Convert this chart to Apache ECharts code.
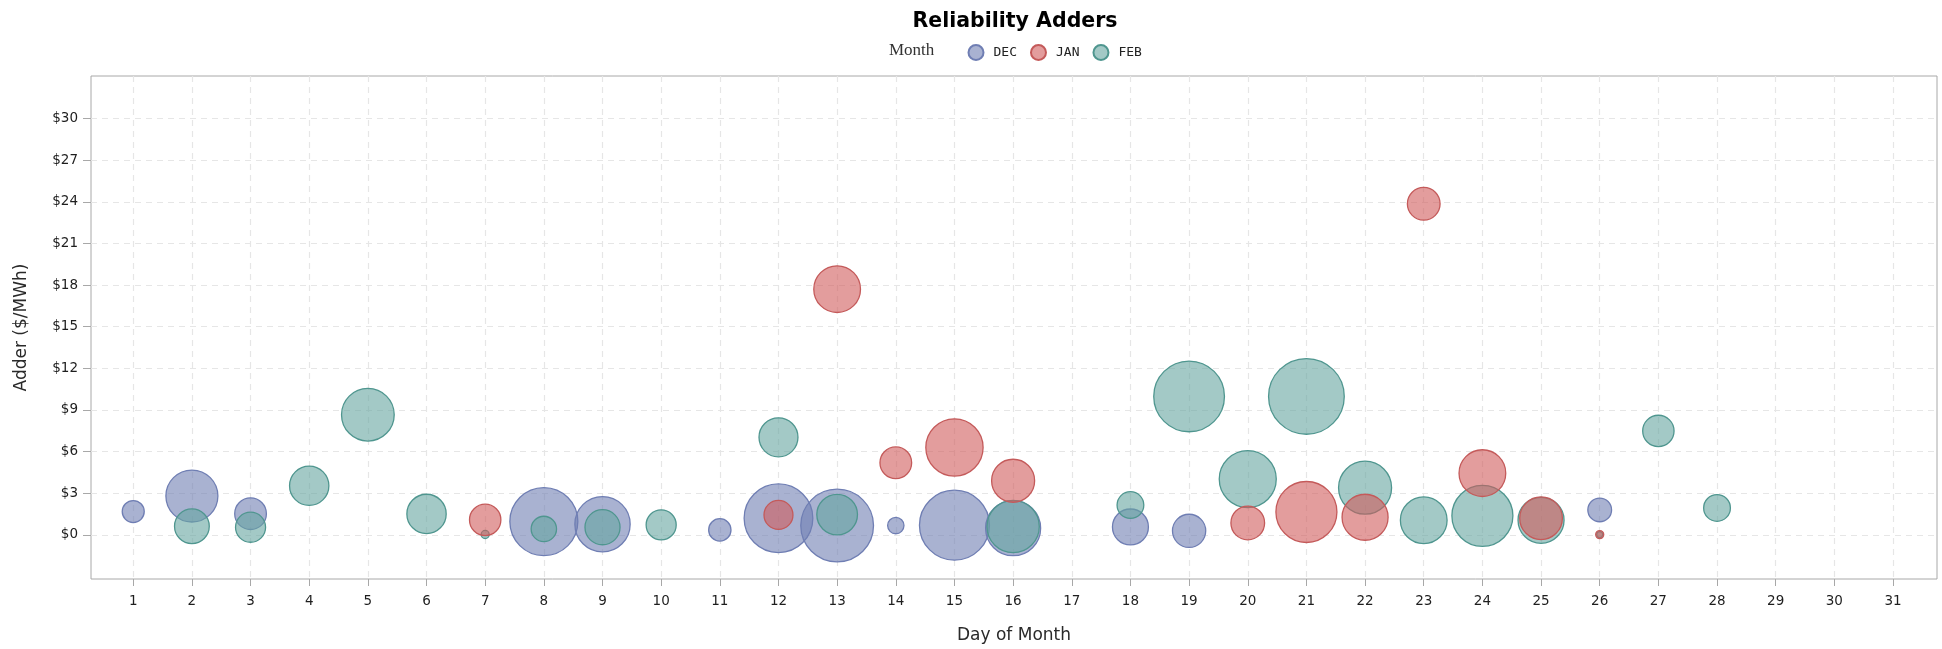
<!DOCTYPE html>
<html>
<head>
<meta charset="utf-8">
<title>Reliability Adders</title>
<script src="https://cdn.jsdelivr.net/npm/echarts@6/dist/echarts.min.js"></script>
<style>
    html, body { margin: 0; padding: 0; background: #fff; }
    #chart { width: 1942px; height: 649px; }
</style>
</head>
<body>
<div id="chart"></div>
<script>
// tick labels
const dayTicks = [1, 2, 3, 4, 5, 6, 7, 8, 9, 10, 11, 12, 13, 14, 15, 16, 17, 18, 19, 20, 21, 22, 23, 24, 25, 26, 27, 28, 29, 30, 31];
const adderTicks = [0, 3, 6, 9, 12, 15, 18, 21, 24, 27, 30];

const months = ['DEC', 'JAN', 'FEB'];

// DEC
const decDay = [1, 2, 3, 8, 9, 11, 12, 13, 14, 15, 16, 18, 19, 26];
const decAdder = [1.68, 2.80, 1.53, 0.96, 0.77, 0.36, 1.20, 0.67, 0.67, 0.70, 0.48, 0.57, 0.29, 1.80];
const decWeight = [6.7, 37.4, 13.9, 64.0, 42.3, 6.9, 65.3, 73.2, 3.7, 67.8, 41.9, 17.9, 15.3, 7.8];

// JAN
const janDay = [7, 12, 13, 14, 15, 16, 20, 21, 22, 23, 24, 25, 26];
const janAdder = [1.08, 1.44, 17.71, 5.20, 6.30, 3.90, 0.86, 1.65, 1.27, 23.86, 4.45, 1.20, 0.02];
const janWeight = [13.6, 11.6, 30.2, 13.9, 45.4, 25.6, 15.7, 51.5, 29.3, 14.8, 30.2, 25.2, 0.9];

// FEB
const febDay = [2, 3, 4, 5, 6, 7, 8, 9, 10, 12, 13, 16, 18, 19, 20, 21, 22, 23, 24, 25, 26, 27, 28];
const febAdder = [0.62, 0.55, 3.54, 8.66, 1.51, 0.03, 0.43, 0.55, 0.72, 7.03, 1.46, 0.60, 2.15, 9.98, 4.02, 9.98, 3.40, 1.05, 1.37, 1.05, 0.02, 7.49, 1.94];
const febWeight = [16.7, 12.5, 21.4, 38.4, 21.4, 0.9, 8.9, 17.0, 12.5, 21.0, 22.9, 37.9, 9.9, 69.2, 45.0, 79.3, 38.9, 30.2, 51.5, 29.3, 0.5, 13.6, 9.9];

const fills = ['rgba(111,126,179,0.6)', 'rgba(208,91,91,0.6)', 'rgba(102,165,160,0.6)'];
const strokes = ['#6f7eb3', '#c45a5a', '#4f968f'];

function zip(days, adder, weight) {
    return days.map(function (d, i) {
        return [d, adder[i], weight[i]];
    });
}

function bubbleSeries(idx, data) {
    return {
        name: months[idx],
        type: 'scatter',
        data: data,
        symbol: 'circle',
        symbolSize: function (v) {
            return 8.5 * Math.sqrt(v[2]);
        },
        itemStyle: {
            color: fills[idx],
            borderColor: strokes[idx],
            borderWidth: 1.3,
            opacity: 1
        },
        emphasis: {disabled: true}
    };
}

const gridLine = {
    show: true,
    lineStyle: {color: '#e6e6e6', width: 1.2, type: [6, 5]}
};
const tickFont = {
    fontFamily: 'DejaVu Sans',
    fontSize: 13.5,
    color: '#1e1e1e'
};
const nameFont = {
    fontFamily: 'DejaVu Sans',
    fontSize: 17,
    color: '#2a2a2a'
};
const frameColor = '#a8a8a8';

let option = {
    animation: false,
    backgroundColor: '#fff',
    title: [
        {
            text: 'Reliability Adders',
            left: 1015,
            top: 11,
            textAlign: 'center',
            padding: 0,
            textStyle: {
                fontFamily: 'DejaVu Sans',
                fontWeight: 'bold',
                fontSize: 20.5,
                color: '#000'
            }
        },
        {
            text: 'Month',
            left: 889,
            top: 42,
            padding: 0,
            textStyle: {
                fontFamily: 'Liberation Serif',
                fontWeight: 'normal',
                fontSize: 17,
                color: '#333'
            }
        }
    ],
    legend: {
        data: months,
        left: 967.5,
        top: 44,
        padding: 0,
        icon: 'circle',
        itemWidth: 15,
        itemHeight: 15,
        itemGap: 13,
        textStyle: {
            fontFamily: 'DejaVu Sans Mono',
            fontSize: 13,
            color: '#222',
            padding: [0, 0, 0, 5]
        }
    },
    grid: {
        left: 91,
        right: 5,
        top: 76,
        bottom: 68,
        show: true,
        borderColor: frameColor,
        borderWidth: 1
    },
    xAxis: {
        type: 'value',
        min: 0.28,
        max: 31.75,
        name: 'Day of Month',
        nameLocation: 'middle',
        nameGap: 48,
        nameTextStyle: nameFont,
        axisLine: {show: false, onZero: false},
        axisTick: {show: true, customValues: dayTicks, length: 7, lineStyle: {color: frameColor}},
        axisLabel: Object.assign({customValues: dayTicks, margin: 15}, tickFont),
        splitLine: gridLine
    },
    yAxis: {
        type: 'value',
        min: -3.18,
        max: 33.07,
        name: 'Adder ($/MWh)',
        nameLocation: 'middle',
        nameGap: 61,
        nameTextStyle: nameFont,
        axisLine: {show: false, onZero: false},
        axisTick: {show: true, customValues: adderTicks, length: 8, lineStyle: {color: frameColor}},
        axisLabel: Object.assign({
            customValues: adderTicks,
            margin: 13,
            formatter: function (v) {
                return '$' + v;
            }
        }, tickFont),
        splitLine: gridLine
    },
    // JAN is drawn last so it sits on top where bubbles overlap
    series: [
        bubbleSeries(0, zip(decDay, decAdder, decWeight)),
        bubbleSeries(2, zip(febDay, febAdder, febWeight)),
        bubbleSeries(1, zip(janDay, janAdder, janWeight))
    ]
};

let chart = echarts.init(document.getElementById('chart'));
chart.setOption(option);
</script>
</body>
</html>
